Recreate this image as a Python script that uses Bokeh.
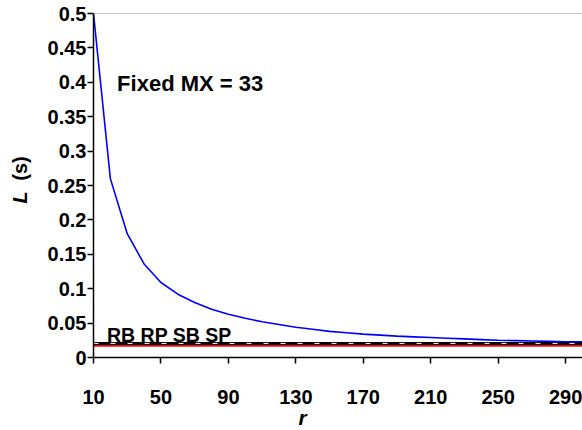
from bokeh.plotting import figure
from bokeh.models import Range1d, FixedTicker, CustomJSTickFormatter, Span, Label, Title
from bokeh.core.properties import value
from bokeh.layouts import row
from bokeh.embed import file_html
from bokeh.resources import INLINE
from math import pi

# ---- data ----
r_values = [10, 20, 30, 40, 50, 60, 70, 80, 90, 100, 110, 120, 130, 140, 150,
            160, 170, 180, 190, 200, 210, 220, 230, 240, 250, 260, 270, 280, 290, 300]
blue_L = [0.500, 0.260, 0.180, 0.136, 0.109, 0.092, 0.080, 0.070, 0.063, 0.057,
          0.052, 0.048, 0.044, 0.041, 0.038, 0.036, 0.034, 0.0325, 0.031, 0.030,
          0.029, 0.028, 0.027, 0.026, 0.025, 0.0245, 0.024, 0.0235, 0.023, 0.023]
rb_L = [0.0205, 0.0205, 0.0205, 0.0205, 0.0205, 0.0205, 0.0205, 0.0205, 0.0205, 0.0205,
        0.0205, 0.0205, 0.0205, 0.0205, 0.0205, 0.0205, 0.0205, 0.0205, 0.0205, 0.0205,
        0.0205, 0.0205, 0.0205, 0.0205, 0.0205, 0.0205, 0.0205, 0.0205, 0.0205, 0.0205]
rp_L = [0.0205, 0.0205, 0.0205, 0.0205, 0.0205, 0.0205, 0.0205, 0.0205, 0.0205, 0.0205,
        0.0205, 0.0205, 0.0205, 0.0205, 0.0205, 0.0205, 0.0205, 0.0205, 0.0205, 0.0205,
        0.0205, 0.0205, 0.0205, 0.0205, 0.0205, 0.0205, 0.0205, 0.0205, 0.0205, 0.0205]
sb_L = [0.018, 0.018, 0.018, 0.018, 0.018, 0.018, 0.018, 0.018, 0.018, 0.018,
        0.018, 0.018, 0.018, 0.018, 0.018, 0.018, 0.018, 0.018, 0.018, 0.018,
        0.018, 0.018, 0.018, 0.018, 0.018, 0.018, 0.018, 0.018, 0.018, 0.018]
sp_L = [0.0172, 0.0172, 0.0172, 0.0172, 0.0172, 0.0172, 0.0172, 0.0172, 0.0172, 0.0172,
        0.0172, 0.0172, 0.0172, 0.0172, 0.0172, 0.0172, 0.0172, 0.0172, 0.0172, 0.0172,
        0.0172, 0.0172, 0.0172, 0.0172, 0.0172, 0.0172, 0.0172, 0.0172, 0.0172, 0.0172]
x_ticks = [10, 50, 90, 130, 170, 210, 250, 290]
y_ticks = [0, 0.05, 0.1, 0.15, 0.2, 0.25, 0.3, 0.35, 0.4, 0.45, 0.5]
x_title = "r"
y_title_var = "L"
y_title_unit = "(s)"

FONT = "Liberation Sans"
W = 582
H = 430
LW = 32          # width of the y-title strip
FRAME_TOP = 13
FRAME_BOTTOM = 357

# ---- y-axis title strip (its frame is aligned with the chart's frame; y in page pixels) ----
ylab = figure(width=LW, height=H, output_backend="svg", toolbar_location=None, title=None,
              x_range=Range1d(0, LW), y_range=Range1d(FRAME_BOTTOM, FRAME_TOP),
              x_axis_type=None, y_axis_type=None,
              min_border_left=0, min_border_right=0,
              min_border_top=FRAME_TOP, min_border_bottom=H - FRAME_BOTTOM)
ylab.outline_line_color = None
ylab.grid.visible = False
ylab.text(x=[19], y=[197], text=[y_title_var], angle=pi / 2,
          text_font=value(FONT), text_font_size="20px", text_font_style="bold italic",
          text_align="center", text_baseline="middle", text_color="black")
ylab.text(x=[19], y=[168], text=[y_title_unit], angle=pi / 2,
          text_font=value(FONT), text_font_size="20px", text_font_style="bold",
          text_align="center", text_baseline="middle", text_color="black")

# ---- main chart ----
p = figure(width=W - LW, height=H, output_backend="svg", toolbar_location=None,
           title=None, x_range=Range1d(10, 300), y_range=Range1d(0, 0.5),
           min_border_left=93 - LW, min_border_right=0, min_border_top=FRAME_TOP,
           min_border_bottom=H - FRAME_BOTTOM)
p.outline_line_color = None
p.xgrid.visible = False
p.ygrid.visible = False

p.line(r_values, sp_L, line_color="#FF3030", line_width=2)
p.line(r_values, sb_L, line_color="#FF0000", line_width=2.5)
p.line(r_values, rb_L, line_color="#000000", line_width=3)
p.line(r_values, rp_L, line_color="#FFFFFF", line_width=1, line_dash="5 12")
p.line(r_values, blue_L, line_color="#0000FF", line_width=1.6)

p.add_layout(Span(location=0.5, dimension="width", line_color="#8C8C8C", line_width=1))

for ax in (p.xaxis[0], p.yaxis[0]):
    ax.axis_line_color = "black"
    ax.axis_line_width = 1.5
    ax.major_tick_line_color = "black"
    ax.major_tick_line_width = 1.5
    ax.major_tick_in = 0
    ax.major_tick_out = 6
    ax.minor_tick_line_color = None
    ax.major_label_text_font = FONT
    ax.major_label_text_font_style = "bold"
    ax.major_label_text_font_size = "20px"
    ax.major_label_text_color = "black"

p.xaxis.ticker = FixedTicker(ticks=x_ticks)
p.yaxis.ticker = FixedTicker(ticks=y_ticks)
p.yaxis.formatter = CustomJSTickFormatter(code="return String(Number(tick.toFixed(2)));")
p.xaxis.major_label_standoff = 26
p.yaxis.major_label_standoff = 1

p.add_layout(Title(text=x_title, align="left", offset=205, standoff=-6,
                   text_font=FONT, text_font_size="21px", text_font_style="bold italic",
                   text_color="black"), "below")

p.add_layout(Label(x=24, y=0.398, text="Fixed MX = 33", text_font=FONT, text_font_size="22px",
                   text_font_style="bold", text_align="left", text_baseline="alphabetic",
                   text_color="black"))
p.add_layout(Label(x=18, y=0.0326, text="RB RP SB SP", text_font=FONT, text_font_size="19.5px",
                   text_font_style="bold", text_align="left", text_baseline="alphabetic",
                   text_color="black"))

layout = row(ylab, p)
open("out.html", "w").write(file_html(layout, INLINE))
